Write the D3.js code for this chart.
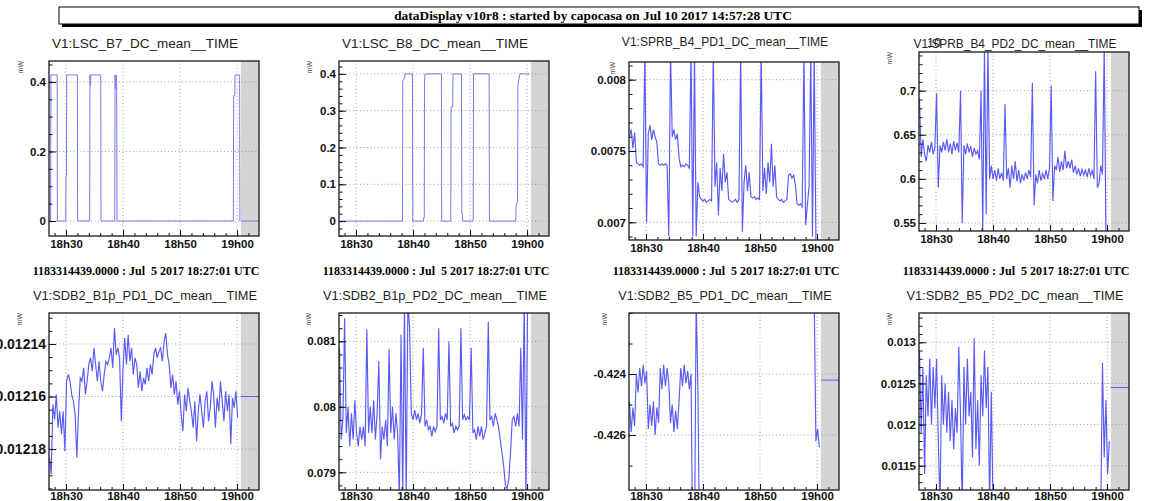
<!DOCTYPE html>
<html>
<head>
<meta charset="utf-8">
<script src="https://cdn.jsdelivr.net/npm/d3@7"></script>
<style>
  body { margin: 0; background: #fff; }
  svg { display: block; }
</style>
</head>
<body>
<div id="chart"></div>
<script>
// ---- data (minutes after 18:00 UTC, Jul 5 2017; values in mW) ----
const headerText = 'dataDisplay v10r8 : started by capocasa on Jul 10 2017 14:57:28 UTC'
const stampText = '1183314439.0000 : Jul  5 2017 18:27:01 UTC'

const titles = [
    'V1:LSC_B7_DC_mean__TIME',
    'V1:LSC_B8_DC_mean__TIME',
    'V1:SPRB_B4_PD1_DC_mean__TIME',
    'V1:SPRB_B4_PD2_DC_mean__TIME',
    'V1:SDB2_B1p_PD1_DC_mean__TIME',
    'V1:SDB2_B1p_PD2_DC_mean__TIME',
    'V1:SDB2_B5_PD1_DC_mean__TIME',
    'V1:SDB2_B5_PD2_DC_mean__TIME',
]

const yTicks = [
    [0, 0.2, 0.4],
    [0, 0.1, 0.2, 0.3, 0.4],
    [0.007, 0.0075, 0.008],
    [0.55, 0.6, 0.65, 0.7],
    [-0.01218, -0.01216, -0.01214],
    [0.079, 0.08, 0.081],
    [-0.426, -0.424],
    [0.0115, 0.012, 0.0125, 0.013],
]
const yMinor = [0.05, 0.02, 0.0001, 0.01, 0.000005, 0.0002, 0.001, 0.0001]
const yRange = [
    [-0.043, 0.46],
    [-0.0405, 0.435],
    [0.006876, 0.008124],
    [0.5409, 0.7439],
    [-0.0121956, -0.0121282],
    [0.07873, 0.081432],
    [-0.4278, -0.422],
    [0.011205, 0.013356],
]

// step signals: breakpoints
const b7Times = [27.02, 27.30, 27.35, 28.45, 28.48, 29.95, 30.00, 30.08, 30.12, 32.00, 32.03, 34.15, 34.20, 34.28, 34.35, 36.10, 36.13, 38.55, 38.60, 38.70, 38.78, 38.88, 38.95, 59.35, 59.40, 59.60, 59.65, 60.45, 60.50]
const b7Values = [0, 0, 0.42, 0.42, 0, 0, 0.13, 0.13, 0.42, 0.42, 0, 0, 0.42, 0.39, 0.42, 0.42, 0, 0, 0.42, 0.38, 0.42, 0.40, 0, 0, 0.36, 0.36, 0.42, 0.42, 0]

const b8Times = [27.02, 38.15, 38.20, 38.55, 38.60, 39.90, 39.95, 41.85, 41.90, 41.97, 42.02, 42.10, 44.98, 45.03, 46.62, 46.67, 46.95, 47.02, 48.50, 48.55, 48.65, 48.70, 50.55, 50.62, 53.35, 53.40, 58.02, 58.07, 58.20, 58.33, 58.40, 58.75, 60.40]
const b8Values = [0, 0, 0.38, 0.39, 0.40, 0.40, 0, 0, 0.01, 0.01, 0.38, 0.40, 0.40, 0, 0, 0.31, 0.31, 0.40, 0.40, 0.02, 0.02, 0, 0, 0.40, 0.40, 0, 0, 0.04, 0.05, 0.05, 0.37, 0.40, 0.40]

// sampled signals: one reading every 0.3 min from 18:27:06
const sampleStart = 27.1
const sampleStep = 0.3

const sprbPd1 = [
    0.00760, 0.00765, 0.00752, 0.00763, 0.00742, 0.00741, 0.00740, 0.00741, 0.00739, 0.0082,
    0.0070, 0.00762, 0.00768, 0.00758, 0.00765, 0.00760, 0.00756, 0.00741, 0.00740, 0.00741,
    0.00740, 0.00741, 0.00740, 0.0069, 0.0082, 0.00760, 0.00765, 0.00758, 0.00762, 0.00745,
    0.00739, 0.00740, 0.00739, 0.00741, 0.00740, 0.00738, 0.0082, 0.0069, 0.0082, 0.0069,
    0.00728, 0.00718, 0.00716, 0.00715, 0.00716, 0.00714, 0.00715, 0.00716, 0.00715, 0.0082,
    0.00725, 0.00742, 0.00705, 0.00738, 0.00722, 0.00748, 0.00728, 0.00735, 0.00716, 0.00715,
    0.00714, 0.00715, 0.00716, 0.00714, 0.00716, 0.0082, 0.00693, 0.00728, 0.00740, 0.00722,
    0.00735, 0.00718, 0.00717, 0.00718, 0.00716, 0.00717, 0.00716, 0.0082, 0.00722, 0.00738,
    0.00720, 0.00742, 0.00728, 0.00755, 0.00725, 0.00740, 0.00718, 0.00716, 0.00715, 0.00716,
    0.00714, 0.00715, 0.00716, 0.00733, 0.00734, 0.00731, 0.00733, 0.00726, 0.00713, 0.00712,
    0.00713, 0.00711, 0.0082, 0.00698, 0.00712, 0.00725, 0.0082, 0.0069, 0.0082, 0.00688,
    null, null,
]

const sprbPd2 = [
    0.690, 0.625, 0.645, 0.628, 0.620, 0.638, 0.630, 0.642, 0.628, 0.635,
    0.697, 0.590, 0.638, 0.630, 0.642, 0.632, 0.645, 0.630, 0.640, 0.628,
    0.643, 0.632, 0.641, 0.630, 0.700, 0.550, 0.638, 0.628, 0.640, 0.630,
    0.637, 0.625, 0.635, 0.628, 0.632, 0.622, 0.700, 0.540, 0.750, 0.560,
    0.750, 0.600, 0.615, 0.600, 0.610, 0.598, 0.612, 0.600, 0.607, 0.598,
    0.685, 0.600, 0.612, 0.590, 0.615, 0.600, 0.620, 0.597, 0.610, 0.595,
    0.605, 0.598, 0.607, 0.600, 0.610, 0.602, 0.709, 0.570, 0.605, 0.595,
    0.610, 0.598, 0.606, 0.600, 0.610, 0.600, 0.612, 0.706, 0.575, 0.615,
    0.610, 0.625, 0.608, 0.620, 0.610, 0.632, 0.612, 0.620, 0.612, 0.622,
    0.607, 0.615, 0.605, 0.612, 0.603, 0.611, 0.604, 0.610, 0.602, 0.612,
    0.604, 0.610, 0.600, 0.722, 0.590, 0.595, 0.615, 0.605, 0.750, 0.540,
    null, null,
]

const b1pPd1 = [
    -0.0121833, -0.0121896, -0.012163, -0.0121687, -0.0121592, -0.0121719, -0.0121656, -0.0121744, -0.0121656, -0.0121808,
    -0.0121542, -0.0121516, -0.0121542, -0.0121592, -0.0121618, -0.0121668, -0.0121833, -0.0121656, -0.0121529, -0.0121542,
    -0.0121491, -0.0121592, -0.0121542, -0.0121478, -0.0121453, -0.0121504, -0.0121415, -0.0121478, -0.0121542, -0.0121466,
    -0.0121542, -0.012158, -0.0121516, -0.0121466, -0.0121478, -0.0121453, -0.0121415, -0.0121491, -0.0121339, -0.0121441,
    -0.0121415, -0.0121453, -0.0121694, -0.0121491, -0.0121377, -0.0121478, -0.0121365, -0.0121466, -0.0121415, -0.0121516,
    -0.0121453, -0.0121478, -0.0121567, -0.0121504, -0.012158, -0.0121529, -0.0121554, -0.0121491, -0.0121542, -0.0121478,
    -0.0121516, -0.0121441, -0.0121415, -0.0121453, -0.0121428, -0.0121415, -0.0121466, -0.012139, -0.0121358, -0.0121441,
    -0.0121478, -0.0121567, -0.0121516, -0.0121592, -0.0121542, -0.012163, -0.012158, -0.0121668, -0.0121732, -0.0121592,
    -0.0121656, -0.0121567, -0.0121618, -0.0121656, -0.0121719, -0.0121618, -0.012177, -0.0121656, -0.0121592, -0.0121656,
    -0.0121719, -0.0121618, -0.012158, -0.0121694, -0.0121643, -0.0121542, -0.0121592, -0.0121719, -0.0121605, -0.0121656,
    -0.0121542, -0.0121618, -0.0121694, -0.012158, -0.0121656, -0.0121592, -0.0121782, -0.0121605, -0.0121643, -0.012158,
    -0.0121681, null,
]

const b1pPd2 = [
    0.0809, 0.0795, 0.0798, 0.08135, 0.0796, 0.0800, 0.0794, 0.0799, 0.0795, 0.0801,
    0.0796, 0.0794, 0.0797, 0.0795, 0.0797, 0.0794, 0.08118, 0.0796, 0.0800, 0.0796,
    0.0801, 0.0795, 0.0799, 0.0807, 0.0792, 0.0797, 0.0795, 0.0798, 0.0794, 0.08088,
    0.0796, 0.0800, 0.0795, 0.0799, 0.0796, 0.0786, 0.0811, 0.0786, 0.0816, 0.0786,
    0.0816, 0.0812, 0.0799, 0.0798, 0.07995, 0.0798, 0.0799, 0.07975, 0.0799, 0.0809,
    0.0797, 0.0798, 0.07965, 0.0797, 0.07955, 0.0797, 0.07962, 0.0797, 0.0812, 0.0798,
    0.07985, 0.07975, 0.0799, 0.0798, 0.0810, 0.0797, 0.07975, 0.0796, 0.0797, 0.07965,
    0.0797, 0.0812, 0.0798, 0.07988, 0.0798, 0.07985, 0.0798, 0.0809, 0.0796, 0.07965,
    0.0795, 0.0797, 0.07955, 0.0797, 0.0795, 0.0796, 0.0797, 0.0813, 0.0798, 0.07985,
    0.0797, 0.0799, 0.0798, 0.0797, 0.0795, 0.0793, 0.0791, 0.0788, 0.07875, 0.0789,
    0.0793, 0.0798, 0.07985, 0.0797, 0.0799, 0.0797, 0.0809, 0.0795, 0.0816, 0.0786,
    0.0816, null,
]

const b5Pd1 = [
    -0.4249, -0.4259, -0.4251, -0.4257, -0.4240, -0.4246, -0.4238, -0.4244, -0.4237, -0.4243,
    -0.4239, -0.4258, -0.4250, -0.4257, -0.4249, -0.4260, -0.4251, -0.4256, -0.4238, -0.4245,
    -0.4237, -0.4244, -0.4238, -0.4243, -0.4256, -0.4250, -0.4259, -0.4252, -0.4258, -0.4249,
    -0.4238, -0.4244, -0.4237, -0.4243, -0.4239, -0.4245, -0.4240, -0.4300, -0.4300, -0.4215,
    -0.4244, -0.4300, null, null, null, null, null, null, null, null,
    null, null, null, null, null, null, null, null, null, null,
    null, null, null, null, null, null, null, null, null, null,
    null, null, null, null, null, null, null, null, null, null,
    null, null, null, null, null, null, null, null, null, null,
    null, null, null, null, null, null, null, null, null, null,
    null, null, null, null, null, null, null, null, -0.4215, -0.4262,
    -0.4258, -0.4264,
]

const b5Pd2 = [
    0.0129, 0.0119, 0.0127, 0.0114, 0.0126, 0.0121, 0.0128, 0.0120, 0.0127, 0.0122,
    0.0128, 0.0118, 0.0110, 0.0126, 0.0120, 0.0125, 0.0119, 0.0124, 0.0118, 0.0123,
    0.0117, 0.0122, 0.0119, 0.01295, 0.0121, 0.0110, 0.0127, 0.0120, 0.0128, 0.0121,
    0.0124, 0.0116, 0.01305, 0.0117, 0.0123, 0.0115, 0.0126, 0.0121, 0.0129, 0.0122,
    0.0127, 0.0110, 0.0124, 0.0110, null, null, null, null, null, null,
    null, null, null, null, null, null, null, null, null, null,
    null, null, null, null, null, null, null, null, null, null,
    null, null, null, null, null, null, null, null, null, null,
    null, null, null, null, null, null, null, null, null, null,
    null, null, null, null, null, null, null, null, null, null,
    null, null, null, null, null, null, 0.0110, 0.01275, 0.0116, 0.0123,
    0.0114, 0.0118,
]

// value held in the shaded (future) zone, null where none is drawn
const heldValues = [0, null, null, null, -0.01216, null, -0.4242, 0.01245]

// ---- layout ----
const W = 1150
const H = 501
const sans = '"Liberation Sans", Arial, Helvetica, sans-serif'
const serif = '"Liberation Serif", "Times New Roman", serif'

const day = Date.UTC(2017, 6, 5, 18, 0, 0)
const toTime = m => new Date(day + m * 60000)
const tStart = toTime(27 + 1 / 60)
const tEnd = toTime(63.85)
const tNow = toTime(60.67)

const sampled = [sprbPd1, sprbPd2, b1pPd1, b1pPd2, b5Pd1, b5Pd2]
const series = [
    b7Times.map((t, i) => [t, b7Values[i]]),
    b8Times.map((t, i) => [t, b8Values[i]]),
    ...sampled.map(arr => arr.map((v, i) => [sampleStart + i * sampleStep, v])),
]

// per-pad frame and text settings (ROOT shrinks long titles to fit)
const frames = [
    { top: 61, bottom: 236, mw: 26, title: 13.5, titleY: 47.5, label: 11.5, color: '#7a7af2', width: 1 },
    { top: 61, bottom: 236, mw: 27, title: 13.5, titleY: 47.5, label: 11.5, color: '#7a7af2', width: 1 },
    { top: 62, bottom: 240, mw: 14, title: 12.1, titleY: 45.5, label: 11.5, color: '#5a5af4', width: 1.15 },
    { top: 52, bottom: 231, mw: 27, title: 11.9, titleY: 47.5, label: 11.5, color: '#5a5af4', width: 1.15 },
    { top: 313, bottom: 490, mw: 27, title: 12.8, titleY: 300, label: 14, color: '#5a5af4', width: 1.15 },
    { top: 313, bottom: 490, mw: 28, title: 12.8, titleY: 300, label: 11.5, color: '#5a5af4', width: 1.15 },
    { top: 313, bottom: 490, mw: 22, title: 12.6, titleY: 300, label: 11.5, color: '#5a5af4', width: 1.15 },
    { top: 313, bottom: 490, mw: 27, title: 12.8, titleY: 300, label: 11.5, color: '#5a5af4', width: 1.15 },
]

const svg = d3.select('#chart').append('svg')
    .attr('width', W)
    .attr('height', H)
    .style('background', '#fff')
const defs = svg.append('defs')

// header bar
svg.append('rect').attr('x', 62).attr('y', 10).attr('width', 1080).attr('height', 17).attr('fill', '#000')
svg.append('rect').attr('x', 59).attr('y', 7).attr('width', 1080).attr('height', 17)
    .attr('fill', '#fff').attr('stroke', '#000').attr('stroke-width', 1)
svg.append('text')
    .attr('x', 593).attr('y', 20)
    .attr('text-anchor', 'middle')
    .attr('font-family', serif).attr('font-weight', 'bold').attr('font-size', 13.4)
    .text(headerText)

titles.forEach((title, k) => {
    const col = k % 4
    const row = Math.floor(k / 4)
    const f = frames[k]
    const left = 49 + 290 * col
    const right = left + 210
    const center = 145 + 290 * col

    const x = d3.scaleUtc().domain([tStart, tEnd]).range([left, right])
    const y = d3.scaleLinear().domain(yRange[k]).range([f.bottom, f.top])

    const clipId = 'clip' + k
    defs.append('clipPath').attr('id', clipId)
        .append('rect')
        .attr('x', left).attr('y', f.top)
        .attr('width', right - left).attr('height', f.bottom - f.top)

    const g = svg.append('g')

    // future zone
    g.append('rect')
        .attr('x', x(tNow)).attr('y', f.top)
        .attr('width', right - x(tNow)).attr('height', f.bottom - f.top)
        .attr('fill', '#d4d4d4')

    // grid
    g.selectAll('.vgrid')
        .data(x.ticks(d3.utcMinute.every(10)))
        .enter()
        .append('line')
        .attr('x1', d => x(d)).attr('x2', d => x(d))
        .attr('y1', f.top).attr('y2', f.bottom)
        .attr('stroke', '#8a8a8a').attr('stroke-width', 0.8).attr('stroke-dasharray', '1,2.5')
    g.selectAll('.hgrid')
        .data(yTicks[k])
        .enter()
        .append('line')
        .attr('x1', left).attr('x2', right)
        .attr('y1', d => y(d)).attr('y2', d => y(d))
        .attr('stroke', '#8a8a8a').attr('stroke-width', 0.8).attr('stroke-dasharray', '1,2.5')

    // signal
    const line = d3.line()
        .defined(d => d[1] !== null)
        .x(d => x(toTime(d[0])))
        .y(d => y(d[1]))
    g.append('path')
        .attr('clip-path', `url(#${clipId})`)
        .attr('d', line(series[k]))
        .attr('fill', 'none')
        .attr('stroke', f.color)
        .attr('stroke-width', f.width)

    if (heldValues[k] !== null) {
        g.append('line')
            .attr('x1', x(tNow)).attr('x2', right)
            .attr('y1', y(heldValues[k])).attr('y2', y(heldValues[k]))
            .attr('stroke', f.color).attr('stroke-width', 1)
    }

    // axes
    const styleAxis = size => sel => {
        sel.attr('font-family', sans).attr('font-size', size).attr('font-weight', 'bold').attr('color', '#111')
        sel.select('.domain').remove()
    }
    const lo = yRange[k][0]
    const hi = yRange[k][1]
    const step = yMinor[k]
    const minorVals = d3.range(Math.ceil(lo / step), Math.floor(hi / step) + 1).map(n => n * step)

    g.append('g').attr('transform', `translate(${left},0)`)
        .call(d3.axisLeft(y).tickValues(minorVals).tickSize(-3.5).tickFormat(''))
        .call(styleAxis(f.label))
    g.append('g').attr('transform', `translate(${left},0)`)
        .call(d3.axisLeft(y).tickValues(yTicks[k]).tickSize(-7).tickPadding(3).tickFormat(d => String(d)))
        .call(styleAxis(f.label))
    g.append('g').attr('transform', `translate(0,${f.bottom})`)
        .call(d3.axisBottom(x).ticks(d3.utcMinute.every(2)).tickSize(-3).tickFormat(''))
        .call(styleAxis(11.5))
    g.append('g').attr('transform', `translate(0,${f.bottom})`)
        .call(d3.axisBottom(x).ticks(d3.utcMinute.every(10)).tickSize(-6).tickPadding(row === 0 ? 4 : 1.5).tickFormat(d3.utcFormat('%Hh%M')))
        .call(styleAxis(11.5))

    // frame
    g.append('rect')
        .attr('x', left).attr('y', f.top)
        .attr('width', right - left).attr('height', f.bottom - f.top)
        .attr('fill', 'none').attr('stroke', '#1a1a1a').attr('stroke-width', 1.3)

    // unit label
    g.append('text')
        .attr('transform', `translate(${left - f.mw},${f.top}) rotate(-90)`)
        .attr('text-anchor', 'end')
        .attr('font-family', sans).attr('font-size', 7).attr('fill', '#444')
        .text('mW')

    // pad title
    g.append('text')
        .attr('x', center).attr('y', f.titleY)
        .attr('text-anchor', 'middle')
        .attr('font-family', sans).attr('font-size', f.title).attr('fill', '#1e1e1e')
        .text(title)

    if (row === 0) {
        g.append('text')
            .attr('x', center + 1).attr('y', 275)
            .attr('text-anchor', 'middle')
            .attr('font-family', serif).attr('font-weight', 'bold').attr('font-size', 12)
            .style('white-space', 'pre')
            .text(stampText)
    }
})

// exponent marker left over on the fourth pad
svg.append('text')
    .attr('x', 927).attr('y', 47)
    .attr('font-family', sans).attr('font-size', 12.5).attr('fill', '#1e1e1e')
    .text('10')
</script>
</body>
</html>
